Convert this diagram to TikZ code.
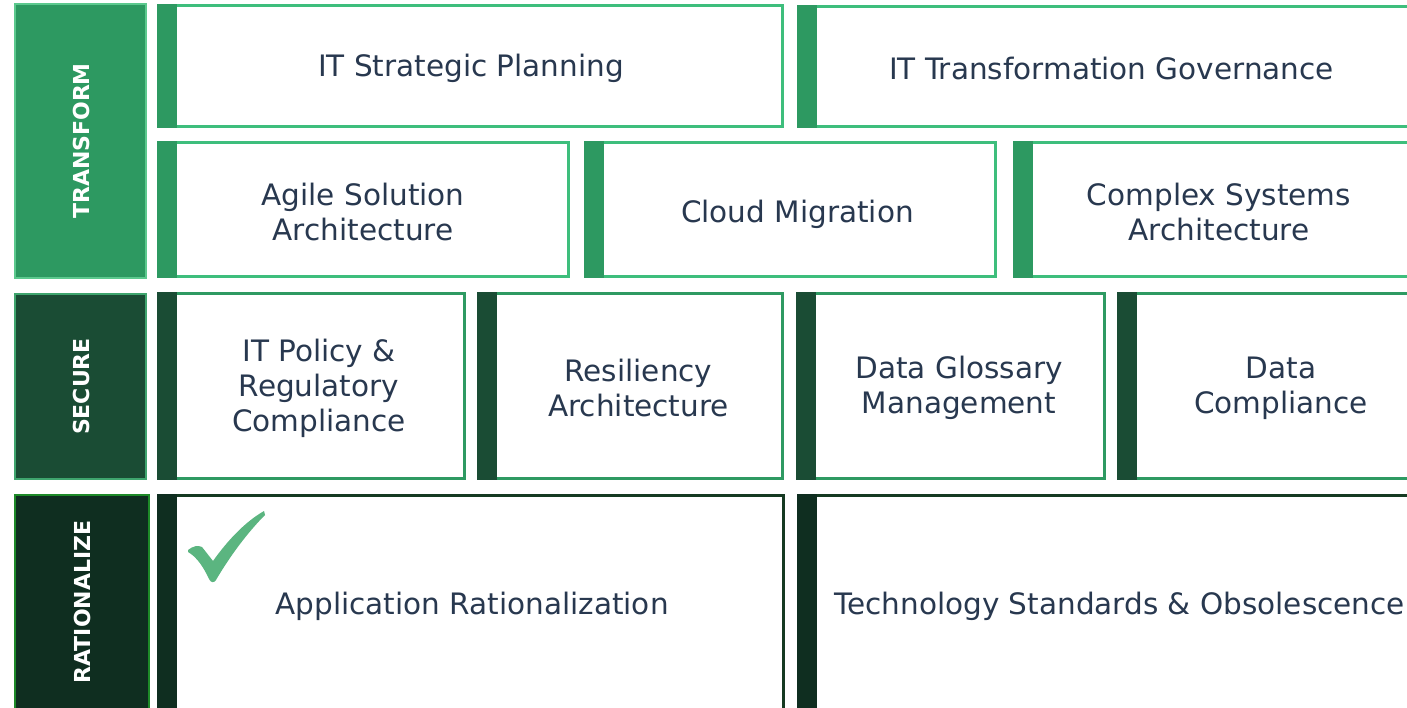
\documentclass[tikz,border=0pt]{standalone}
\usepackage{fontspec}
\setmainfont{DejaVu Sans}
\definecolor{tfill}{HTML}{2D9961}
\definecolor{tedge}{HTML}{5CC98E}
\definecolor{sfill}{HTML}{1A4C34}
\definecolor{sedge}{HTML}{3FA56E}
\definecolor{rfill}{HTML}{0F2E20}
\definecolor{redge}{HTML}{1E8A28}
\definecolor{rowA}{HTML}{3EBE7C}
\definecolor{rowB}{HTML}{2E9A62}
\definecolor{rowC}{HTML}{163A22}
\definecolor{txt}{HTML}{28384F}
\definecolor{chk}{HTML}{5BB580}
\newcommand\tile[6]{% bar-left, right, top, bottom, border colour, bar colour
  \draw[#5, line width=3] (#1+12,#3+1.5) rectangle (#2,#4-1.5);
  \fill[#6] (#1,#3) rectangle (#1+20,#4);
}
\tikzset{
  lbl/.style={text=white, font=\fontsize{22}{24}\selectfont\bfseries, rotate=90, inner sep=0},
  item/.style={text=txt, font=\fontsize{29.5}{35}\selectfont, align=center, inner sep=0}
}
\begin{document}
\begin{tikzpicture}[x=1pt,y=-1pt]
\useasboundingbox (0,0) rectangle (1407,708);
\begin{scope}
\clip (0,0) rectangle (1407,708);
\fill[white] (0,0) rectangle (1407,708);
% category blocks
\draw[fill=tfill, draw=tedge, line width=1.5] (15,4) rectangle (146,278);
\draw[fill=sfill, draw=sedge, line width=1.5] (15,294) rectangle (146,479);
\draw[fill=rfill, draw=redge, line width=1.8] (15,495) rectangle (149,714);
\node[lbl] (transform) at (81,141) {TRANSFORM};
\node[lbl] (secure) at (81,386.5) {SECURE};
\node[lbl] (rationalize) at (82,602) {RATIONALIZE};
% row 1
\tile{157}{782}{4}{128}{rowA}{tfill}
\tile{797}{1420}{5}{128}{rowA}{tfill}
% row 2
\tile{157}{568}{141}{278}{rowA}{tfill}
\tile{584}{995}{141}{278}{rowA}{tfill}
\tile{1013}{1420}{141}{278}{rowA}{tfill}
% row 3
\tile{157}{464}{292}{480}{rowB}{sfill}
\tile{477}{782}{292}{480}{rowB}{sfill}
\tile{796}{1104}{292}{480}{rowB}{sfill}
\tile{1117}{1420}{292}{480}{rowB}{sfill}
% row 4
\tile{157}{783}{494}{715}{rowC}{rfill}
\tile{797}{1420}{494}{715}{rowC}{rfill}
% check mark
\fill[chk] (188,550) .. controls (193,546) and (198,545) .. (202,547) -- (213,561)
  .. controls (228,540) and (245,522) .. (264,511) -- (265,515)
  .. controls (248,532) and (230,556) .. (216,580)
  .. controls (214,583) and (211,583) .. (209,579)
  .. controls (204,568) and (197,557) .. (188,552) -- cycle;
% texts
\node[item] (itsp) at (471,68) {IT Strategic Planning};
\node[item] (ittg) at (1111.5,69) {IT Transformation Governance};
\node[item] (asa) at (363,212) {Agile Solution\\Architecture};
\node[item] (cm) at (797.5,214) {Cloud Migration};
\node[item] (csa) at (1219,212) {Complex Systems\\Architecture};
\node[item] (itp) at (319,388) {IT Policy \&\\Regulatory\\Compliance};
\node[item] (ra) at (638.5,388) {Resiliency\\Architecture};
\node[item] (dgm) at (959,388) {Data Glossary\\Management};
\node[item] (dc) at (1281,388) {Data\\Compliance};
\node[item] (ar) at (472,606) {Application Rationalization};
\node[item] (tso) at (1119.5,606) {Technology Standards \& Obsolescence};
\end{scope}
\end{tikzpicture}
\end{document}
